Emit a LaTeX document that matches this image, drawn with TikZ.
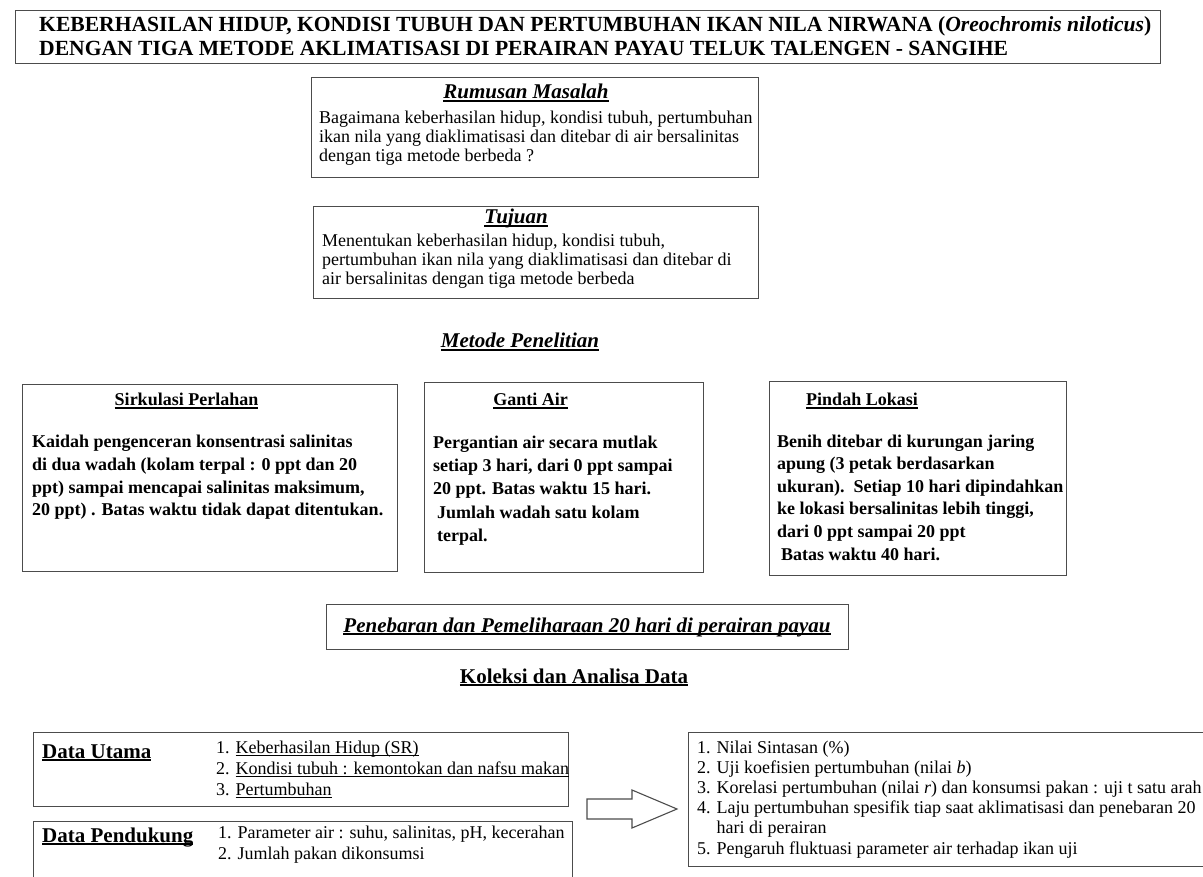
\documentclass[tikz,border=0pt]{standalone}
\usepackage{fontspec}
\setmainfont{Liberation Serif}
\newcommand\HeadUL[1]{\setbox0=\hbox{#1}\rlap{\rule[-3pt]{\wd0}{1.6pt}}\box0}
\newcommand\ThinUL[1]{\setbox0=\hbox{#1}\rlap{\rule[-2.6pt]{\wd0}{0.9pt}}\box0}
\newcommand\Lines[1]{\begin{tabular}[t]{@{}l@{}}#1\end{tabular}}
\tikzset{
  box/.style={draw=black!70, line width=1.2pt, inner sep=0pt, anchor=north west},
  txt/.style={inner sep=0pt, anchor=base west, text=black},
  ctxt/.style={inner sep=0pt, anchor=base, text=black},
  head/.style={font=\fontsize{21}{25}\selectfont\bfseries},
  sub/.style={font=\fontsize{18}{22}\selectfont\bfseries},
}
\begin{document}
\begin{tikzpicture}[x=1pt,y=-1pt]
\useasboundingbox (0,0) rectangle (1203,877);
\clip (0,0) rectangle (1203,877);
% boxes
\node[box, minimum width=1145pt, minimum height=53pt] (titlebox) at (15,10) {};
\node[box, minimum width=447pt, minimum height=100pt] (rumbox) at (311,77) {};
\node[box, minimum width=445pt, minimum height=92pt] (tujbox) at (313,206) {};
\node[box, minimum width=375pt, minimum height=187pt] (sirbox) at (22,384) {};
\node[box, minimum width=279pt, minimum height=190pt] (gantbox) at (424,382) {};
\node[box, minimum width=297pt, minimum height=194pt] (pinbox) at (769,381) {};
\node[box, minimum width=522pt, minimum height=45pt] (tebbox) at (326,604) {};
\node[box, minimum width=535pt, minimum height=74pt] (utbox) at (33,732) {};
\node[box, minimum width=539pt, minimum height=80pt] (dukbox) at (33,821) {};
\node[box, minimum width=540pt, minimum height=134pt] (hasbox) at (688,732) {};
% title
\node[txt] (title) at (39,32) {\fontsize{21.6}{24}\selectfont\bfseries\Lines{KEBERHASILAN HIDUP, KONDISI TUBUH DAN PERTUMBUHAN IKAN NILA NIRWANA (\textit{Oreochromis niloticus})\\DENGAN TIGA METODE AKLIMATISASI DI PERAIRAN PAYAU TELUK TALENGEN - SANGIHE}};
% rumusan
\node[ctxt, head] (rumh) at (526,99) {\itshape\HeadUL{Rumusan Masalah}};
\node[txt] (rumb) at (319,124) {\fontsize{18}{19}\selectfont\Lines{Bagaimana keberhasilan hidup, kondisi tubuh, pertumbuhan\\ikan nila yang diaklimatisasi dan ditebar di air bersalinitas\\dengan tiga metode berbeda ?}};
% tujuan
\node[ctxt, head] (tujh) at (516,224) {\itshape\HeadUL{Tujuan}};
\node[txt] (tujb) at (322,247) {\fontsize{18}{19}\selectfont\Lines{Menentukan keberhasilan hidup, kondisi tubuh,\\pertumbuhan ikan nila yang diaklimatisasi dan ditebar di\\air bersalinitas dengan tiga metode berbeda}};
% metode
\node[ctxt, head] (meth) at (520,348) {\itshape\HeadUL{Metode Penelitian}};
% sirkulasi
\node[ctxt, sub] (sirh) at (186.5,406) {\HeadUL{Sirkulasi Perlahan}};
\node[txt, sub] (sirb) at (32,447) {\fontsize{18}{23}\selectfont\Lines{Kaidah pengenceran konsentrasi salinitas\\di dua wadah (kolam terpal : 0 ppt dan 20\\ppt) sampai mencapai salinitas maksimum,\\20 ppt)\ . Batas waktu tidak dapat ditentukan.}};
% ganti air
\node[ctxt, sub] (ganh) at (530.5,406) {\HeadUL{Ganti Air}};
\node[txt, sub] (ganb) at (433,449) {\fontsize{18}{23}\selectfont\Lines{Pergantian air secara mutlak\\setiap 3 hari, dari 0 ppt sampai\\20 ppt. Batas waktu 15 hari.\\[0.5pt]\hspace{4pt}Jumlah wadah satu kolam\\\hspace{4pt}terpal.}};
% pindah lokasi
\node[ctxt, sub] (pinh) at (862,406) {\HeadUL{Pindah Lokasi}};
\node[txt, sub] (pinb) at (777,447) {\fontsize{18}{22.5}\selectfont\Lines{Benih ditebar di kurungan jaring\\apung (3 petak berdasarkan\\ukuran).\ \ Setiap 10 hari dipindahkan\\ke lokasi bersalinitas lebih tinggi,\\dari 0 ppt sampai 20 ppt\\[1.5pt]\hspace{4pt}Batas waktu 40 hari.}};
% penebaran
\node[ctxt, head] (teb) at (587,632) {\itshape\HeadUL{Penebaran dan Pemeliharaan 20 hari di perairan payau}};
% koleksi
\node[ctxt, head] (kol) at (574,683) {\HeadUL{Koleksi dan Analisa Data}};
% data utama
\node[txt, head] (uth) at (42,758) {\HeadUL{Data Utama}};
\node[txt] (utb) at (216,753) {\fontsize{18}{21}\selectfont\Lines{1. \ThinUL{Keberhasilan Hidup (SR)}\\2. \ThinUL{Kondisi tubuh : kemontokan dan nafsu makan}\\3. \ThinUL{Pertumbuhan}}};
% data pendukung
\node[txt, head] (dukh) at (42,842) {\HeadUL{Data Pendukung}};
\node[txt] (dukb) at (218,838) {\fontsize{18}{21}\selectfont\Lines{1. Parameter air : suhu, salinitas, pH, kecerahan\\2. Jumlah pakan dikonsumsi}};
% hasil
\node[txt] (hasb) at (697,753) {\fontsize{18}{20.2}\selectfont\Lines{1. Nilai Sintasan (\%)\\2. Uji koefisien pertumbuhan (nilai \textit{b})\\3. Korelasi pertumbuhan (nilai \textit{r}) dan konsumsi pakan : uji t satu arah\\4. Laju pertumbuhan spesifik tiap saat aklimatisasi dan penebaran 20\\\phantom{4. }hari di perairan\\5. Pengaruh fluktuasi parameter air terhadap ikan uji}};
% block arrow
\coordinate (arrS) at (587,809);
\coordinate (arrT) at (677,809);
\draw[draw=black!70, line width=1.1pt] (arrS) ++(0,-10) -- ++(45,0) -- ++(0,-9) -- (arrT) -- ++(-45,19) -- ++(0,-9) -- ++(-45,0) -- cycle;
\end{tikzpicture}
\end{document}
